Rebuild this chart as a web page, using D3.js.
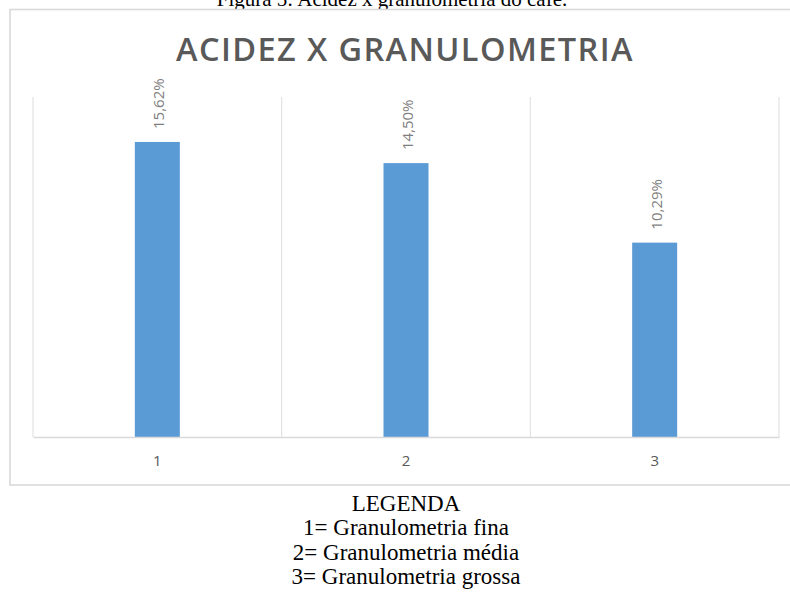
<!DOCTYPE html>
<html>
<head>
<meta charset="utf-8">
<script src="https://cdn.jsdelivr.net/npm/d3@7/dist/d3.min.js"></script>
<style>
  html, body { margin: 0; padding: 0; background: #ffffff; }
  svg { display: block; }
</style>
</head>
<body>
<svg id="chart" width="790" height="608"></svg>
<script>
// Chart data
const categories = ["1", "2", "3"];
const acidez = [15.62, 14.50, 10.29];
const valueLabels = ["15,62%", "14,50%", "10,29%"];
const yMax = 18;

const captionText = "Figura 5: Acidez x granulometria do café.";
const chartTitle = "ACIDEZ X GRANULOMETRIA";
const legendLines = [
  "LEGENDA",
  "1= Granulometria fina",
  "2= Granulometria média",
  "3= Granulometria grossa"
];

const svg = d3.select("#chart");

// Plot area
const plot = { left: 33, right: 779, top: 97, bottom: 437 };

const x = d3.scaleBand()
  .domain(categories)
  .range([plot.left, plot.right])
  .paddingInner(0).paddingOuter(0);

const y = d3.scaleLinear()
  .domain([0, yMax])
  .range([plot.bottom, plot.top]);

const barWidth = 45;

// Figure caption (runs off the top edge)
svg.append("text")
  .attr("x", 392)
  .attr("y", 6)
  .attr("text-anchor", "middle")
  .style("font-family", "'Liberation Serif', 'Times New Roman', serif")
  .style("font-size", "21px")
  .style("fill", "#000")
  .text(captionText);

// Chart frame
svg.append("rect")
  .attr("x", 10).attr("y", 9.5)
  .attr("width", 800).attr("height", 475.5)
  .attr("fill", "#ffffff")
  .attr("stroke", "#d9d9d9")
  .attr("stroke-width", 1.6);

// Title
svg.append("text")
  .attr("x", 405)
  .attr("y", 61)
  .attr("text-anchor", "middle")
  .style("font-family", "'Open Sans', sans-serif")
  .style("font-weight", 600)
  .style("font-size", "32.5px")
  .style("letter-spacing", "1.4px")
  .style("fill", "#595959")
  .text(chartTitle);

// Category separators (vertical gridlines)
const bounds = categories.map(c => x(c)).concat([x(categories[categories.length - 1]) + x.bandwidth()]);
svg.append("g")
  .selectAll("line")
  .data(bounds)
  .join("line")
  .attr("x1", d => d).attr("x2", d => d)
  .attr("y1", plot.top).attr("y2", plot.bottom)
  .attr("stroke", "#e3e3e3")
  .attr("stroke-width", 1.2);

// Bars
svg.append("g")
  .selectAll("rect")
  .data(acidez)
  .join("rect")
  .attr("x", (d, i) => x(categories[i]) + x.bandwidth() / 2 - barWidth / 2)
  .attr("y", d => y(d))
  .attr("width", barWidth)
  .attr("height", d => y(0) - y(d))
  .attr("fill", "#5b9bd5");

// Category axis
const xAxis = svg.append("g")
  .attr("transform", `translate(0,${plot.bottom})`)
  .call(d3.axisBottom(x).tickSize(0).tickPadding(18));
xAxis.select(".domain").attr("stroke", "#d9d9d9").attr("stroke-width", 1.5);
xAxis.selectAll("text")
  .style("font-family", "'Open Sans', sans-serif")
  .style("font-size", "15px")
  .style("fill", "#595959");

// Value labels, rotated
svg.append("g")
  .selectAll("text")
  .data(acidez)
  .join("text")
  .attr("transform", (d, i) => {
    const cx = x(categories[i]) + x.bandwidth() / 2 + 1;
    const ty = y(d) - 13;
    return `translate(${cx},${ty}) rotate(-90)`;
  })
  .attr("text-anchor", "start")
  .attr("dominant-baseline", "central")
  .style("font-family", "'Open Sans', sans-serif")
  .style("font-size", "15px")
  .style("fill", "#7f7f7f")
  .text((d, i) => valueLabels[i]);

// Legend below the chart
svg.append("g")
  .selectAll("text")
  .data(legendLines)
  .join("text")
  .attr("x", 406)
  .attr("y", (d, i) => 511 + i * 24.3)
  .attr("text-anchor", "middle")
  .style("font-family", "'Liberation Serif', 'Times New Roman', serif")
  .style("font-size", "23px")
  .style("fill", "#000")
  .text(d => d);
</script>
</body>
</html>
